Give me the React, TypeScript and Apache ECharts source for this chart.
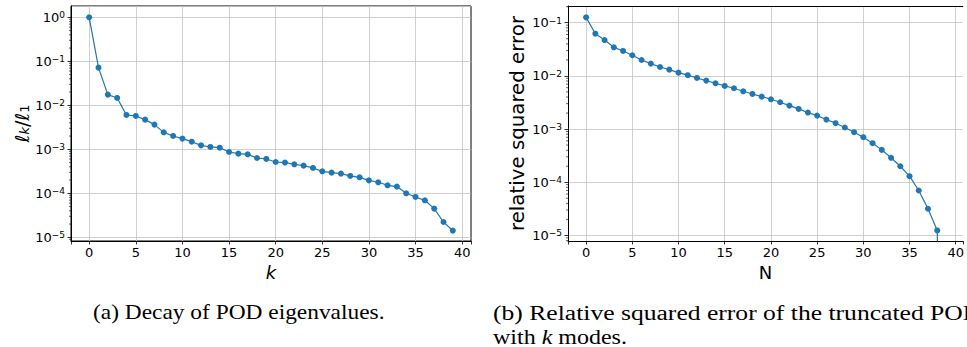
import React, { useEffect, useRef } from "react";
import * as echarts from "echarts";

// ---- data ----
const modeIndex = [0,1,2,3,4,5,6,7,8,9,10,11,12,13,14,15,16,17,18,19,20,21,22,23,24,25,26,27,28,29,30,31,32,33,34,35,36,37,38,39];
const eigenRatio = [
  1.0, 0.0718, 0.0175, 0.0147, 0.00603, 0.00573, 0.00472, 0.00364, 0.00243, 0.00201,
  0.00175, 0.00149, 0.00123, 0.00113, 0.00109, 0.000869, 0.000797, 0.000769, 0.000635, 0.000603,
  0.000515, 0.0005, 0.000456, 0.000425, 0.000377, 0.000316, 0.000295, 0.00028, 0.000248, 0.000231,
  0.000197, 0.000178, 0.000152, 0.000142, 0.0001, 0.0000826, 0.0000693, 0.0000449, 0.0000223, 0.0000142,
];
const truncN = [0,1,2,3,4,5,6,7,8,9,10,11,12,13,14,15,16,17,18,19,20,21,22,23,24,25,26,27,28,29,30,31,32,33,34,35,36,37,38,39];
const relSquaredError = [
  0.126, 0.0621, 0.0472, 0.0344, 0.0294, 0.0244, 0.0199, 0.017, 0.0147, 0.0131,
  0.0115, 0.0103, 0.00914, 0.00815, 0.00726, 0.00647, 0.00585, 0.00513, 0.00457, 0.00407,
  0.00363, 0.00319, 0.00276, 0.00239, 0.00204, 0.00179, 0.00151, 0.00129, 0.00107, 0.000873,
  0.000703, 0.000542, 0.000406, 0.000288, 0.0002, 0.00013, 0.00007, 0.0000317, 0.0000124, 1e-16,
];
const minorMultipliers = [2, 3, 4, 5, 6, 7, 8, 9];
const decades = [-6, -5, -4, -3, -2, -1, 0];

const captionA = "(a) Decay of POD eigenvalues.";
const captionB1 = "(b) Relative squared error of the truncated POD";
const captionB2 = "with {i|k} modes.";

// axis extents (matplotlib autoscale margins)
const xMinL = -1.95;
const xMaxL = 40.95;
const xMinR = -1.96;
const xMaxR = 40.76; // right panel is cut by the page edge
const yLeftMin = Math.pow(10, -5.084);
const yLeftMax = Math.pow(10, 0.257);
const yRightMin = Math.pow(10, -5.105);
const yRightMax = Math.pow(10, -0.686);

const SANS = "DejaVu Sans";
const SERIF = "Liberation Serif";
const BLUE = "#1f77b4";

function minorTicks(lo: number, hi: number): number[] {
  const out: number[] = [];
  for (const d of decades) {
    for (const m of minorMultipliers) {
      const v = m * Math.pow(10, d);
      if (v > lo && v < hi) out.push(v);
    }
  }
  return out;
}

function logLabel(v: number): string {
  const e = Math.log10(v);
  const r = Math.round(e);
  if (Math.abs(e - r) > 1e-6) return "";
  const s = r < 0 ? "\u2212" + -r : String(r);
  return `{b|10}{s|${s}}`;
}

const logRich = {
  b: { fontSize: 13, fontFamily: SANS, color: "#000", lineHeight: 13, padding: [2, 0, 2, 0] },
  s: { fontSize: 9, fontFamily: SANS, color: "#000", lineHeight: 9, verticalAlign: "top" },
};

function xAxisCfg(gridIndex: number, min: number, max: number, name: string, italic: boolean) {
  return {
    type: "value",
    gridIndex,
    min,
    max,
    minInterval: 5,
    maxInterval: 5,
    name,
    nameLocation: "middle",
    nameGap: 21,
    nameTextStyle: { fontSize: 18, fontFamily: SANS, color: "#000", fontStyle: italic ? "italic" : "normal" },
    axisLine: { show: true, onZero: false, lineStyle: { color: "#000", width: 1 } },
    axisTick: { show: true, inside: false, length: 3.5, lineStyle: { color: "#000", width: 0.8 } },
    axisLabel: {
      fontSize: 13,
      fontFamily: SANS,
      color: "#000",
      margin: 5,
      formatter: (v: number) => (Math.abs(v - Math.round(v / 5) * 5) < 1e-6 ? String(Math.round(v)) : ""),
    },
    splitLine: { show: true, showMinLine: false, showMaxLine: false, lineStyle: { color: "#c4c4c4", width: 0.8 } },
  };
}

function topSpine(gridIndex: number, min: number, max: number) {
  return {
    type: "value",
    gridIndex,
    position: "top",
    min,
    max,
    axisLine: { show: true, onZero: false, lineStyle: { color: "#000", width: 1 } },
    axisTick: { show: false },
    axisLabel: { show: false },
    splitLine: { show: false },
  };
}

function yAxisCfg(gridIndex: number, min: number, max: number, name: string, nameRich: any, nameGap: number, nameSize: number) {
  return {
    type: "log",
    logBase: 10,
    gridIndex,
    min,
    max,
    name,
    nameLocation: "middle",
    nameGap,
    nameRotate: 90,
    nameTextStyle: { fontSize: nameSize, fontFamily: SANS, color: "#000", rich: nameRich },
    axisLine: { show: true, onZero: false, lineStyle: { color: "#000", width: 1 } },
    axisTick: { show: true, inside: false, length: 3.5, lineStyle: { color: "#000", width: 0.8 } },
    axisLabel: { formatter: logLabel, rich: logRich, margin: 6, showMinLabel: false, showMaxLabel: false },
    splitLine: { show: true, lineStyle: { color: "#c4c4c4", width: 0.8 } },
  };
}

function minorSeries(axisIndex: number, xMin: number, lo: number, hi: number) {
  return {
    type: "custom",
    xAxisIndex: axisIndex,
    yAxisIndex: axisIndex,
    silent: true,
    clip: false,
    z: 5,
    data: minorTicks(lo, hi).map((v) => [xMin, v]),
    encode: { x: 0, y: 1 },
    renderItem: (_p: any, api: any) => {
      const pt = api.coord([api.value(0), api.value(1)]);
      return {
        type: "line",
        shape: { x1: pt[0] - 2, y1: pt[1], x2: pt[0], y2: pt[1] },
        style: { stroke: "#000", lineWidth: 0.6 },
      };
    },
  };
}

export default function App() {
  const ref = useRef<HTMLDivElement>(null);
  useEffect(() => {
    if (!ref.current) return;
    const chart = echarts.init(ref.current, undefined, { renderer: "svg" });
    const option: any = {
      animation: false,
      backgroundColor: "#fff",
      grid: [
        { left: 71, top: 6, width: 400, height: 235, show: true, borderColor: "#000", borderWidth: 1, backgroundColor: "transparent" },
        { left: 568, top: 6, right: 0, height: 235, show: false },
      ],
      xAxis: [
        xAxisCfg(0, xMinL, xMaxL, "k", true),
        xAxisCfg(1, xMinR, xMaxR, "N", false),
        topSpine(1, xMinR, xMaxR),
      ],
      yAxis: [
        yAxisCfg(0, yLeftMin, yLeftMax, "{i|\u2113}{sub|k}{n|/}{i|\u2113}{sub1|1}", {
          i: { fontSize: 19, fontFamily: SANS, fontStyle: "italic", color: "#000" },
          n: { fontSize: 19, fontFamily: SANS, color: "#000" },
          sub: { fontSize: 13, fontFamily: SANS, fontStyle: "italic", color: "#000", verticalAlign: "bottom", padding: [6, 0, 0, 0] },
          sub1: { fontSize: 13, fontFamily: SANS, color: "#000", verticalAlign: "bottom", padding: [6, 0, 0, 0] },
        }, 40, 19),
        yAxisCfg(1, yRightMin, yRightMax, "relative squared error", undefined, 41, 19.8),
      ],
      series: [
        {
          type: "line",
          xAxisIndex: 0,
          yAxisIndex: 0,
          data: modeIndex.map((k, i) => [k, eigenRatio[i]]),
          symbol: "circle",
          symbolSize: 6,
          showSymbol: true,
          lineStyle: { color: BLUE, width: 1.2 },
          itemStyle: { color: BLUE },
          clip: true,
          z: 3,
        },
        {
          type: "line",
          xAxisIndex: 1,
          yAxisIndex: 1,
          data: truncN.map((n, i) => [n, relSquaredError[i]]),
          symbol: "circle",
          symbolSize: 6,
          showSymbol: true,
          lineStyle: { color: BLUE, width: 1.2 },
          itemStyle: { color: BLUE },
          clip: true,
          z: 3,
        },
        minorSeries(0, xMinL, yLeftMin, yLeftMax),
        minorSeries(1, xMinR, yRightMin, yRightMax),
      ],
      graphic: [
        {
          type: "text",
          x: 93,
          y: 313,
          scaleX: 1.17,
          style: { text: captionA, fontSize: 20, fontFamily: SERIF, fill: "#000", verticalAlign: "middle" },
        },
        {
          type: "text",
          x: 493,
          y: 313,
          scaleX: 1.28,
          style: { text: captionB1, fontSize: 20, fontFamily: SERIF, fill: "#000", verticalAlign: "middle" },
        },
        {
          type: "text",
          x: 493,
          y: 337,
          scaleX: 1.2,
          style: {
            text: captionB2,
            fontSize: 20,
            fontFamily: SERIF,
            fill: "#000",
            verticalAlign: "middle",
            rich: { i: { fontSize: 20, fontFamily: SERIF, fontStyle: "italic", fill: "#000" } },
          },
        },
      ],
    };
    chart.setOption(option);
    return () => chart.dispose();
  }, []);
  return <div ref={ref} style={{ position: "absolute", left: 0, top: 0, width: 967, height: 347 }} />;
}
